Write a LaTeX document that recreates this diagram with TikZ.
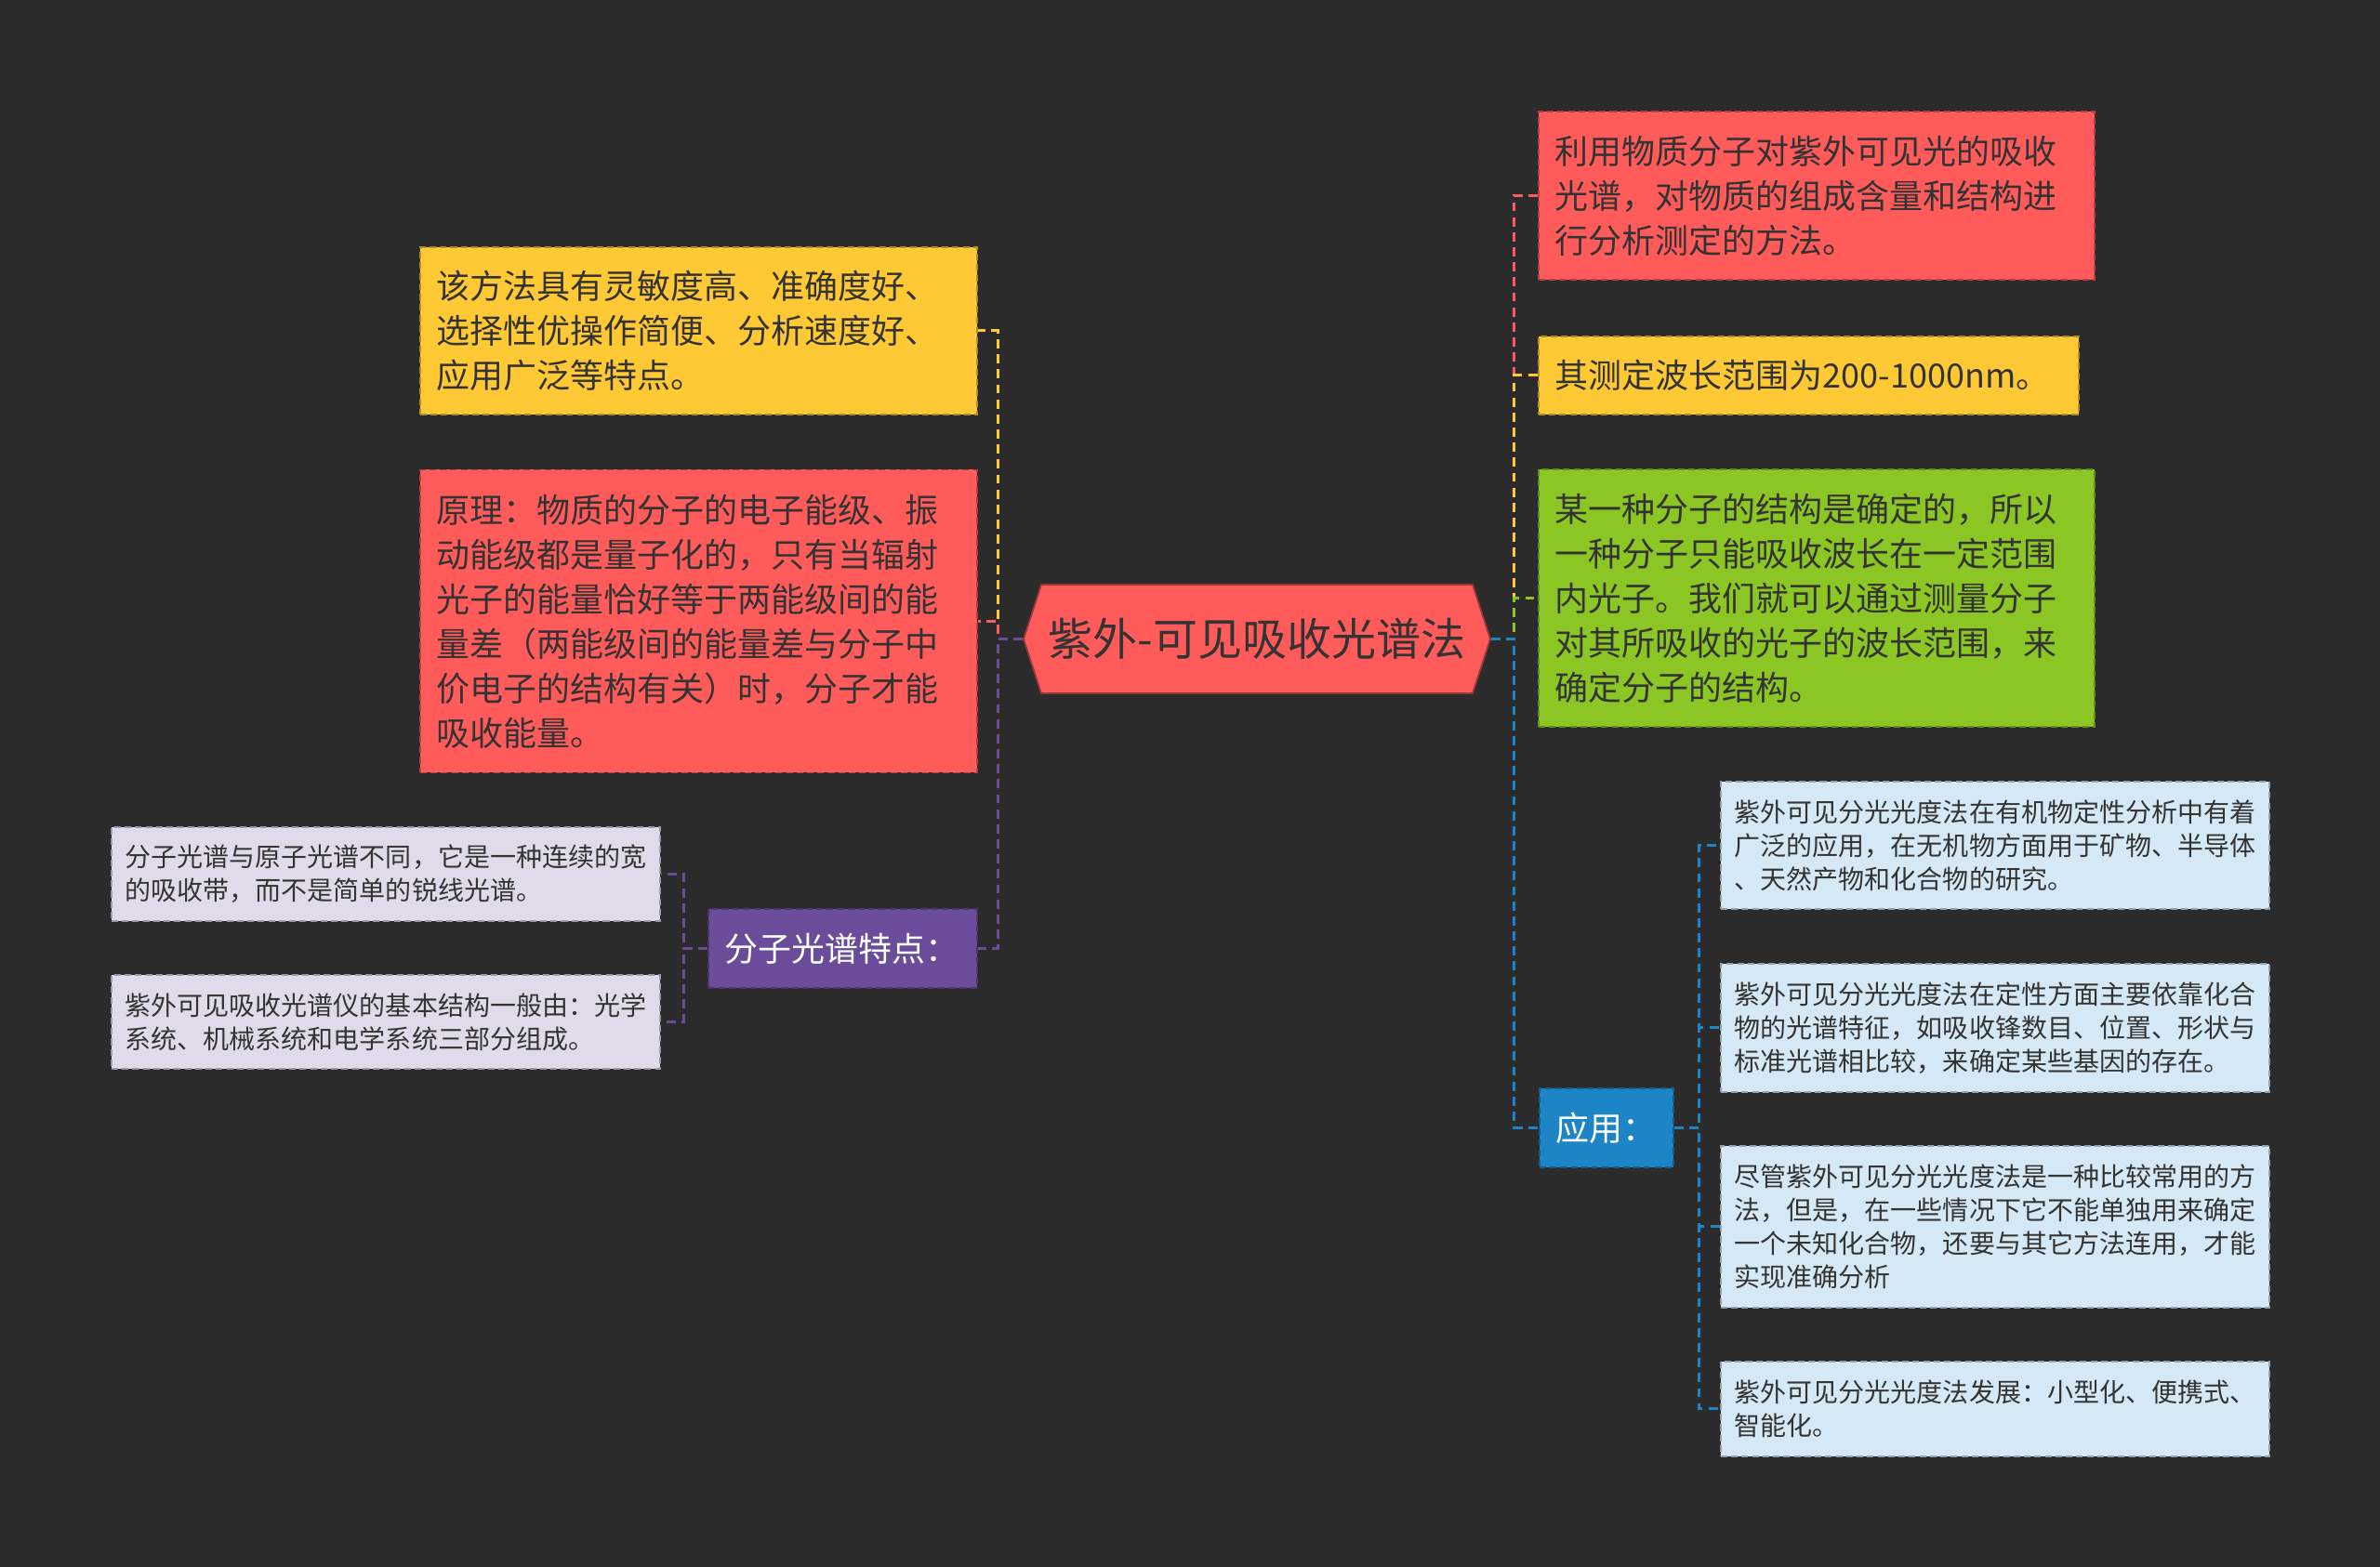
\documentclass[tikz,border=0pt]{standalone}
\usepackage{fontspec}
\newfontfamily\cjk{Noto Sans CJK SC}
\usetikzlibrary{shapes.symbols}
\definecolor{bgdark}{HTML}{2B2B2B}
\definecolor{coral}{HTML}{FF5B5B}
\definecolor{amber}{HTML}{FFC935}
\definecolor{lime}{HTML}{8CC625}
\definecolor{grape}{HTML}{6B4C9A}
\definecolor{lilac}{HTML}{E0DBEA}
\definecolor{ocean}{HTML}{1D84C6}
\definecolor{ice}{HTML}{D5E8F5}
\definecolor{ink}{HTML}{333333}
\tikzset{
  card/.style={draw=#1!70!black,fill=#1,dash pattern=on 2pt off 1.2pt,line width=0.5pt,
    anchor=north west,align=left,inner xsep=0.18cm,inner ysep=0pt,text=ink,
    font=\cjk\fontsize{10.24pt}{13.66pt}\selectfont},
  leaf/.style={card=#1,inner xsep=0.15cm,font=\cjk\fontsize{7.97pt}{10.24pt}\selectfont},
  tag/.style={card=#1,text=white},
  link/.style={draw=#1,line width=0.85pt,dash pattern=on 2.8pt off 1.8pt}
}
\begin{document}
\begin{tikzpicture}[x=1cm,y=-1cm]
\fill[bgdark] (0,0) rectangle (25.6,16.86);
\useasboundingbox (0,0) rectangle (25.6,16.86);
\node[signal,signal to=west and east,signal pointer angle=144,fill=coral,draw=coral!60!black,
  line width=0.5pt,minimum width=5.02cm,minimum height=1.17cm,inner sep=0pt,text=ink,
  font=\cjk\fontsize{13.66pt}{16pt}\selectfont] (root) at (13.52,6.875) {紫外-可见吸收光谱法};
\node[card=coral,text width=5.62cm,minimum height=1.81cm] (rt1) at (16.54,1.19)
  {利用物质分子对紫外可见光的吸收\\光谱，对物质的组成含量和结构进\\行分析测定的方法。};
\node[card=amber,text width=5.45cm,minimum height=0.84cm] (rt2) at (16.54,3.61)
  {其测定波长范围为200-1000nm。};
\node[card=lime,text width=5.62cm,minimum height=2.77cm] (rt3) at (16.54,5.04)
  {某一种分子的结构是确定的，所以\\一种分子只能吸收波长在一定范围\\内光子。我们就可以通过测量分子\\对其所吸收的光子的波长范围，来\\确定分子的结构。};
\node[tag=ocean,text width=1.08cm,minimum height=0.85cm] (app) at (16.55,11.70) {应用：};
\node[leaf=ice,text width=5.60cm,minimum height=1.37cm] (ap1) at (18.50,8.40)
  {紫外可见分光光度法在有机物定性分析中有着\\广泛的应用，在无机物方面用于矿物、半导体\\、天然产物和化合物的研究。};
\node[leaf=ice,text width=5.60cm,minimum height=1.38cm] (ap2) at (18.50,10.36)
  {紫外可见分光光度法在定性方面主要依靠化合\\物的光谱特征，如吸收锋数目、位置、形状与\\标准光谱相比较，来确定某些基因的存在。};
\node[leaf=ice,text width=5.60cm,minimum height=1.74cm] (ap3) at (18.50,12.32)
  {尽管紫外可见分光光度法是一种比较常用的方\\法，但是，在一些情况下它不能单独用来确定\\一个未知化合物，还要与其它方法连用，才能\\实现准确分析};
\node[leaf=ice,text width=5.60cm,minimum height=1.02cm] (ap4) at (18.50,14.64)
  {紫外可见分光光度法发展：小型化、便携式、\\智能化。};
\node[card=amber,text width=5.63cm,minimum height=1.80cm] (lt1) at (4.51,2.65)
  {该方法具有灵敏度高、准确度好、\\选择性优操作简便、分析速度好、\\应用广泛等特点。};
\node[card=coral,text width=5.63cm,minimum height=3.26cm] (lt2) at (4.51,5.045)
  {原理：物质的分子的电子能级、振\\动能级都是量子化的，只有当辐射\\光子的能量恰好等于两能级间的能\\量差（两能级间的能量差与分子中\\价电子的结构有关）时，分子才能\\吸收能量。};
\node[tag=grape,text width=2.53cm,minimum height=0.85cm] (mol) at (7.61,9.77) {分子光谱特点：};
\node[leaf=lilac,text width=5.60cm,minimum height=1.01cm] (ml1) at (1.19,8.89)
  {分子光谱与原子光谱不同，它是一种连续的宽\\的吸收带，而不是简单的锐线光谱。};
\node[leaf=lilac,text width=5.60cm,minimum height=1.01cm] (ml2) at (1.19,10.48)
  {紫外可见吸收光谱仪的基本结构一般由：光学\\系统、机械系统和电学系统三部分组成。};
\draw[link=coral] (root.east) -- ++(0.25,0) |- (rt1.west);
\draw[link=amber] (root.east) -- ++(0.25,0) |- (rt2.west);
\draw[link=lime] (root.east) -- ++(0.25,0) |- (rt3.west);
\draw[link=ocean] (root.east) -- ++(0.25,0) |- (app.west);
\draw[link=amber] (root.west) -- ++(-0.27,0) |- (lt1.east);
\draw[link=coral] (root.west) -- ++(-0.27,0) |- (lt2.east);
\draw[link=grape] (root.west) -- ++(-0.27,0) |- (mol.east);
\foreach \n in {ml1,ml2}
  \draw[link=grape] (mol.west) -- ++(-0.26,0) |- (\n.east);
\foreach \n in {ap1,ap2,ap3,ap4}
  \draw[link=ocean] (app.east) -- ++(0.27,0) |- (\n.west);
\end{tikzpicture}
\end{document}
